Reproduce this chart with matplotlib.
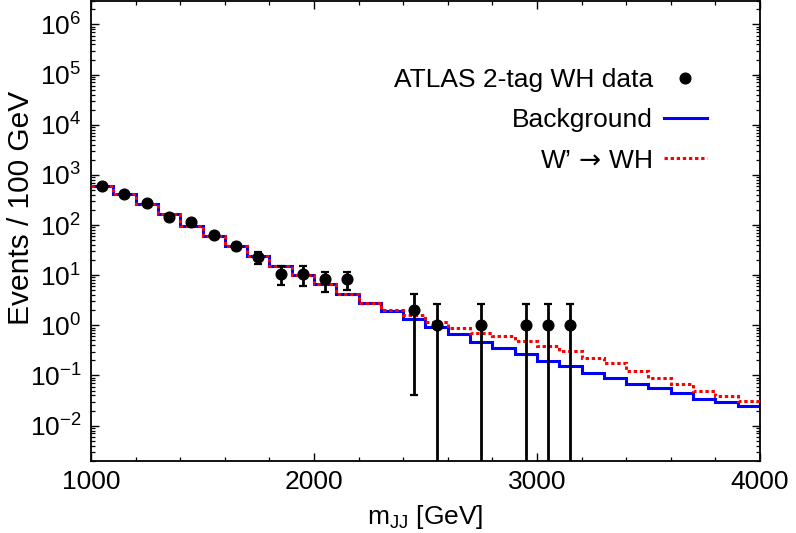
import numpy as np
import matplotlib
matplotlib.use("Agg")
import matplotlib.pyplot as plt
from matplotlib.ticker import FixedLocator, MultipleLocator, NullFormatter, LogFormatterSciNotation
from matplotlib.lines import Line2D

plt.rcParams['font.family'] = ['Liberation Sans', 'DejaVu Sans']
plt.rcParams['mathtext.fontset'] = 'custom'
plt.rcParams['mathtext.rm'] = 'Liberation Sans'
plt.rcParams['mathtext.it'] = 'Liberation Sans:italic'
plt.rcParams['mathtext.bf'] = 'Liberation Sans:bold'
plt.rcParams['mathtext.sf'] = 'DejaVu Sans'

# ---- data ----
bin_edges = list(range(1000, 4001, 100))
background = [601, 417, 264, 167, 97.7, 61, 38.6, 23.7, 15.0, 10.2,
              6.56, 4.28, 2.79, 1.93, 1.36, 0.93, 0.687, 0.468, 0.346, 0.266,
              0.193, 0.154, 0.110, 0.0888, 0.0674, 0.0553, 0.044, 0.0344, 0.0292, 0.0247]
signal_plus_bkg = [601, 417, 264, 167, 97.7, 61, 38.6, 23.7, 15.0, 10.2,
                   6.56, 4.28, 2.79, 2.05, 1.58, 1.14, 0.90, 0.707, 0.626, 0.49,
                   0.396, 0.31, 0.225, 0.179, 0.124, 0.0888, 0.0684, 0.049, 0.0389, 0.0314]
data_x = [1050, 1150, 1250, 1350, 1450, 1550, 1650, 1750, 1850, 1950, 2050, 2150,
          2450, 2550, 2750, 2950, 3050, 3150]
data_y = [601, 423, 276, 143, 114, 62.7, 38.6, 22.9, 10.4, 10.7, 8.4, 8.4,
          2.0, 1.0, 1.0, 1.0, 1.0, 1.0]
data_err_lo = [25, 20, 17, 12, 11, 8, 6.2, 6.5, 3.9, 4.7, 3.7, 3.4,
               1.96, 0.9999, 0.9999, 0.9999, 0.9999, 0.9999]
data_err_hi = [25, 20, 17, 12, 11, 8, 6.2, 5.9, 4.6, 4.3, 3.3, 3.3,
               2.15, 1.63, 1.63, 1.63, 1.63, 1.63]

y_decades = [1e-2, 1e-1, 1e0, 1e1, 1e2, 1e3, 1e4, 1e5, 1e6]
labels = ["ATLAS 2-tag WH data", "Background", r"W’$\,\mathsf{\rightarrow}\,$WH"]

# ---- figure ----
fig = plt.figure(figsize=(7.96, 5.33), dpi=100)
ax = fig.add_axes([91/796, 1 - 460.7/533, (760 - 91)/796, 460.7/533 - 0.001])

ax.stairs(background, bin_edges, baseline=None, color='#0000ff',
          linewidth=2.2, zorder=2)
ax.stairs(signal_plus_bkg, bin_edges, baseline=None, color='#ff0000',
          linewidth=2.2, linestyle=(0, (1.1, 0.9)), zorder=3)
ax.errorbar(data_x, data_y, yerr=[data_err_lo, data_err_hi], fmt='o',
            color='black', markersize=7.7, elinewidth=2.0, capsize=2.6,
            capthick=1.6, zorder=4)

ax.set_yscale('log')
ax.set_xlim(1000, 4000)
ax.set_ylim(2e-3, 3e6)

ax.xaxis.set_major_locator(MultipleLocator(1000))
ax.xaxis.set_minor_locator(MultipleLocator(200))
minor_y = [m * d for d in [1e-3] + y_decades for m in range(2, 10)]
minor_y = [v for v in minor_y if 2e-3 <= v <= 3e6]
ax.yaxis.set_major_locator(FixedLocator(y_decades))
ax.yaxis.set_major_formatter(LogFormatterSciNotation())
ax.yaxis.set_minor_locator(FixedLocator(minor_y))
ax.yaxis.set_minor_formatter(NullFormatter())

ax.tick_params(which='both', direction='in', top=True, right=True)
ax.tick_params(which='major', length=6, width=1.0, labelsize=19, pad=7)
ax.tick_params(which='minor', length=3, width=0.9)
for s in ax.spines.values():
    s.set_linewidth(1.3)

ax.set_xlabel(r"m$_{\rm JJ}$ [GeV]", fontsize=19, labelpad=6)
ax.set_ylabel("Events / 100 GeV", fontsize=21.5)
ax.yaxis.set_label_coords(-0.083, 0.55)

lh_dat = Line2D([], [], color='black', marker='o', linestyle='none', markersize=7.7)
lh_bkg = Line2D([], [], color='#0000ff', linewidth=2.2)
lh_sig = Line2D([], [], color='#ff0000', linewidth=2.2, linestyle=(0, (1.1, 0.9)))
ax.legend([lh_dat, lh_bkg, lh_sig], labels, loc='upper right',
          bbox_to_anchor=(707/796, 1 - 68/533), bbox_transform=fig.transFigure,
          frameon=False, markerfirst=False, fontsize=19, handlelength=1.63,
          handletextpad=0.42, labelspacing=0.62, borderpad=0, borderaxespad=0)

fig.savefig("out.png", dpi=100)
